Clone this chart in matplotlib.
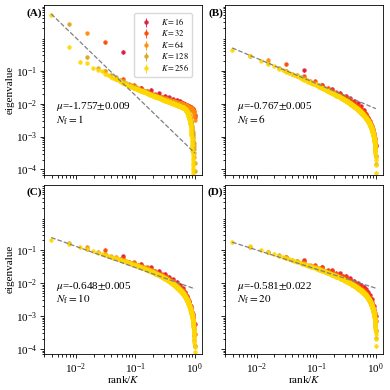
import numpy as np
import matplotlib
matplotlib.use("Agg")
import matplotlib.pyplot as plt
from matplotlib.ticker import LogLocator, NullFormatter

plt.rcParams["font.family"] = "serif"
plt.rcParams["font.serif"] = ["Liberation Serif", "DejaVu Serif"]
plt.rcParams["mathtext.fontset"] = "stix"
plt.rcParams["font.size"] = 8

# ── Data ──────────────────────────────────────────────────────────────────────
K_VALUES = [16, 32, 64, 128, 256]
COLORS = ["crimson", "orangered", "darkorange", "goldenrod", "gold"]
PANEL_TAGS = ["(A)", "(B)", "(C)", "(D)"]
N_F = [1, 6, 10, 20]
FIT_MU = [-1.757, -0.767, -0.648, -0.581]
FIT_MU_ERR = [0.009, 0.005, 0.005, 0.022]
FIT_LOG_AMP = [-3.50, -2.15, -2.17, -2.15]   # log10 of fitted line at rank/K = 1
ERR_FRAC = 0.12

# log10(eigenvalue) for rank = 1..K
A_K16 = [-0.42, -1.52, -1.58, -1.68, -1.75, -1.80, -1.85, -1.89, -1.93, -1.97, -2.00, -2.03, -2.07, -2.11, -2.16, -2.35]
A_K32 = [-0.13, -1.25, -1.42, -1.52, -1.60, -1.66, -1.71, -1.75, -1.79, -1.82, -1.85, -1.87, -1.89, -1.91, -1.93, -1.95,
         -1.96, -1.98, -1.99, -2.00, -2.02, -2.03, -2.04, -2.05, -2.07, -2.08, -2.10, -2.12, -2.14, -2.17, -2.22, -2.40]
A_K64 = [0.14, -0.99, -1.25, -1.37, -1.45, -1.51, -1.56, -1.60, -1.63, -1.66, -1.69, -1.71, -1.73, -1.75, -1.77, -1.79,
         -1.80, -1.82, -1.83, -1.84, -1.85, -1.87, -1.88, -1.89, -1.90, -1.91, -1.92, -1.92, -1.93, -1.94, -1.95, -1.96,
         -1.97, -1.97, -1.98, -1.99, -1.99, -2.00, -2.01, -2.01, -2.02, -2.03, -2.03, -2.04, -2.05, -2.05, -2.06, -2.07,
         -2.08, -2.09, -2.10, -2.11, -2.12, -2.13, -2.14, -2.15, -2.17, -2.19, -2.21, -2.23, -2.26, -2.30, -2.36, -2.50]
A_K128 = [0.42, -0.59, -0.92, -1.02, -1.12, -1.20, -1.27, -1.32, -1.36, -1.40, -1.44, -1.47, -1.50, -1.53, -1.55, -1.57,
          -1.59, -1.61, -1.62, -1.64, -1.66, -1.67, -1.69, -1.71, -1.72, -1.74, -1.75, -1.76, -1.77, -1.78, -1.79, -1.80,
          -1.81, -1.82, -1.83, -1.84, -1.85, -1.86, -1.87, -1.87, -1.88, -1.88, -1.89, -1.89, -1.90, -1.91, -1.91, -1.92,
          -1.93, -1.93, -1.94, -1.94, -1.95, -1.95, -1.96, -1.97, -1.97, -1.98, -1.98, -1.99, -1.99, -2.00, -2.00, -2.01,
          -2.02, -2.02, -2.02, -2.03, -2.03, -2.04, -2.04, -2.05, -2.05, -2.05, -2.06, -2.06, -2.07, -2.07, -2.08, -2.08,
          -2.09, -2.10, -2.10, -2.11, -2.11, -2.12, -2.13, -2.13, -2.14, -2.15, -2.16, -2.17, -2.18, -2.19, -2.20, -2.21,
          -2.23, -2.25, -2.27, -2.29, -2.31, -2.33, -2.35, -2.37, -2.40, -2.43, -2.46, -2.49, -2.52, -2.55, -2.59, -2.63,
          -2.67, -2.71, -2.76, -2.81, -2.86, -2.92, -2.98, -3.05, -3.12, -3.20, -3.29, -3.39, -3.50, -3.63, -3.80, -4.05]
A_K256 = [0.70, -0.27, -0.73, -0.77, -0.92, -0.98, -1.02, -1.09, -1.13, -1.18, -1.22, -1.26, -1.29, -1.32, -1.35, -1.37,
          -1.39, -1.41, -1.43, -1.45, -1.47, -1.48, -1.50, -1.51, -1.53, -1.54, -1.55, -1.56, -1.57, -1.58, -1.59, -1.60,
          -1.61, -1.62, -1.63, -1.64, -1.64, -1.65, -1.66, -1.67, -1.68, -1.69, -1.69, -1.70, -1.71, -1.72, -1.73, -1.74,
          -1.74, -1.75, -1.76, -1.77, -1.77, -1.78, -1.78, -1.79, -1.79, -1.80, -1.80, -1.81, -1.81, -1.82, -1.82, -1.83,
          -1.83, -1.84, -1.84, -1.85, -1.85, -1.86, -1.86, -1.87, -1.87, -1.88, -1.88, -1.89, -1.89, -1.89, -1.90, -1.90,
          -1.90, -1.91, -1.91, -1.91, -1.92, -1.92, -1.92, -1.93, -1.93, -1.93, -1.94, -1.94, -1.94, -1.94, -1.95, -1.95,
          -1.95, -1.96, -1.96, -1.96, -1.97, -1.97, -1.97, -1.97, -1.98, -1.98, -1.98, -1.99, -1.99, -1.99, -1.99, -2.00,
          -2.00, -2.00, -2.01, -2.01, -2.01, -2.02, -2.02, -2.02, -2.02, -2.03, -2.03, -2.03, -2.03, -2.04, -2.04, -2.04,
          -2.04, -2.05, -2.05, -2.05, -2.05, -2.05, -2.06, -2.06, -2.06, -2.06, -2.07, -2.07, -2.07, -2.07, -2.08, -2.08,
          -2.08, -2.08, -2.08, -2.09, -2.09, -2.09, -2.09, -2.10, -2.10, -2.10, -2.10, -2.10, -2.11, -2.11, -2.11, -2.11,
          -2.11, -2.12, -2.12, -2.12, -2.12, -2.13, -2.13, -2.13, -2.14, -2.14, -2.14, -2.15, -2.15, -2.15, -2.16, -2.16,
          -2.16, -2.17, -2.17, -2.18, -2.18, -2.19, -2.20, -2.21, -2.21, -2.22, -2.23, -2.24, -2.24, -2.25, -2.26, -2.27,
          -2.28, -2.29, -2.30, -2.31, -2.32, -2.33, -2.35, -2.36, -2.37, -2.38, -2.40, -2.41, -2.42, -2.44, -2.45, -2.47,
          -2.48, -2.50, -2.52, -2.54, -2.56, -2.58, -2.60, -2.63, -2.66, -2.69, -2.72, -2.75, -2.79, -2.83, -2.87, -2.91,
          -2.95, -3.01, -3.06, -3.12, -3.18, -3.24, -3.30, -3.37, -3.43, -3.50, -3.57, -3.65, -3.72, -3.80, -3.87, -3.95,
          -4.03, -4.12, -4.21, -4.30, -4.40, -4.50, -4.60, -4.70, -4.80, -4.90, -5.00, -5.10, -5.22, -5.35, -5.55, -5.80]

B_K16 = [-0.98, -1.42, -1.55, -1.66, -1.75, -1.83, -1.91, -1.99, -2.08, -2.18, -2.30, -2.43, -2.60, -2.82, -3.02, -3.25]
B_K32 = [-0.80, -1.17, -1.31, -1.42, -1.51, -1.58, -1.65, -1.70, -1.76, -1.81, -1.85, -1.90, -1.94, -1.99, -2.03, -2.07,
         -2.11, -2.15, -2.19, -2.24, -2.28, -2.33, -2.37, -2.43, -2.48, -2.54, -2.61, -2.68, -2.77, -2.88, -3.03, -3.28]
B_K64 = [-0.66, -0.99, -1.13, -1.23, -1.31, -1.38, -1.44, -1.49, -1.53, -1.58, -1.61, -1.65, -1.68, -1.71, -1.74, -1.77,
         -1.80, -1.83, -1.85, -1.88, -1.90, -1.92, -1.95, -1.97, -1.99, -2.01, -2.03, -2.06, -2.08, -2.10, -2.12, -2.14,
         -2.16, -2.18, -2.20, -2.22, -2.25, -2.27, -2.29, -2.31, -2.33, -2.36, -2.38, -2.40, -2.43, -2.45, -2.48, -2.51,
         -2.53, -2.56, -2.59, -2.63, -2.66, -2.70, -2.74, -2.78, -2.83, -2.88, -2.94, -3.01, -3.09, -3.19, -3.34, -3.59]
B_K128 = [-0.54, -0.77, -0.91, -1.01, -1.09, -1.15, -1.20, -1.25, -1.29, -1.33, -1.37, -1.40, -1.43, -1.46, -1.48, -1.51,
          -1.53, -1.55, -1.57, -1.59, -1.61, -1.63, -1.65, -1.67, -1.68, -1.70, -1.72, -1.73, -1.75, -1.76, -1.78, -1.79,
          -1.80, -1.82, -1.83, -1.84, -1.86, -1.87, -1.88, -1.90, -1.91, -1.92, -1.93, -1.94, -1.95, -1.96, -1.98, -1.99,
          -2.00, -2.01, -2.02, -2.03, -2.04, -2.05, -2.06, -2.08, -2.09, -2.10, -2.11, -2.12, -2.13, -2.14, -2.15, -2.16,
          -2.17, -2.18, -2.19, -2.20, -2.21, -2.22, -2.23, -2.25, -2.26, -2.27, -2.28, -2.29, -2.30, -2.31, -2.32, -2.33,
          -2.34, -2.36, -2.37, -2.38, -2.39, -2.40, -2.41, -2.43, -2.44, -2.45, -2.47, -2.48, -2.49, -2.50, -2.52, -2.53,
          -2.55, -2.56, -2.58, -2.59, -2.61, -2.62, -2.64, -2.65, -2.67, -2.69, -2.71, -2.73, -2.75, -2.77, -2.79, -2.81,
          -2.84, -2.87, -2.89, -2.92, -2.95, -2.99, -3.02, -3.06, -3.10, -3.15, -3.21, -3.27, -3.35, -3.45, -3.60, -3.84]
B_K256 = [-0.36, -0.55, -0.69, -0.79, -0.86, -0.93, -0.98, -1.03, -1.07, -1.10, -1.14, -1.17, -1.19, -1.22, -1.24, -1.27,
          -1.29, -1.31, -1.33, -1.35, -1.36, -1.38, -1.40, -1.41, -1.43, -1.44, -1.46, -1.47, -1.48, -1.50, -1.51, -1.52,
          -1.53, -1.54, -1.55, -1.56, -1.58, -1.59, -1.60, -1.61, -1.62, -1.63, -1.64, -1.65, -1.65, -1.66, -1.67, -1.68,
          -1.69, -1.70, -1.71, -1.71, -1.72, -1.73, -1.74, -1.75, -1.75, -1.76, -1.77, -1.78, -1.78, -1.79, -1.80, -1.81,
          -1.81, -1.82, -1.83, -1.83, -1.84, -1.85, -1.85, -1.86, -1.87, -1.87, -1.88, -1.89, -1.89, -1.90, -1.90, -1.91,
          -1.92, -1.92, -1.93, -1.93, -1.94, -1.95, -1.95, -1.96, -1.96, -1.97, -1.97, -1.98, -1.99, -1.99, -2.00, -2.00,
          -2.01, -2.02, -2.02, -2.03, -2.03, -2.04, -2.04, -2.05, -2.05, -2.06, -2.06, -2.07, -2.08, -2.08, -2.09, -2.09,
          -2.10, -2.10, -2.11, -2.11, -2.12, -2.12, -2.13, -2.13, -2.14, -2.14, -2.15, -2.16, -2.16, -2.17, -2.17, -2.18,
          -2.18, -2.19, -2.19, -2.20, -2.20, -2.21, -2.21, -2.22, -2.23, -2.23, -2.24, -2.24, -2.25, -2.25, -2.26, -2.26,
          -2.27, -2.27, -2.28, -2.28, -2.29, -2.30, -2.30, -2.31, -2.31, -2.32, -2.32, -2.33, -2.33, -2.34, -2.34, -2.35,
          -2.36, -2.36, -2.37, -2.37, -2.38, -2.39, -2.39, -2.40, -2.40, -2.41, -2.41, -2.42, -2.43, -2.43, -2.44, -2.44,
          -2.45, -2.46, -2.46, -2.47, -2.48, -2.48, -2.49, -2.50, -2.50, -2.51, -2.52, -2.52, -2.53, -2.54, -2.54, -2.55,
          -2.56, -2.57, -2.57, -2.58, -2.59, -2.60, -2.60, -2.61, -2.62, -2.63, -2.64, -2.64, -2.65, -2.66, -2.67, -2.68,
          -2.69, -2.70, -2.71, -2.72, -2.73, -2.74, -2.75, -2.76, -2.77, -2.78, -2.79, -2.80, -2.81, -2.82, -2.83, -2.84,
          -2.85, -2.86, -2.88, -2.89, -2.90, -2.92, -2.93, -2.95, -2.96, -2.98, -3.00, -3.02, -3.04, -3.05, -3.07, -3.09,
          -3.11, -3.14, -3.16, -3.19, -3.22, -3.26, -3.29, -3.32, -3.37, -3.41, -3.47, -3.53, -3.61, -3.71, -3.85, -4.10]

C_K16 = [-1.18, -1.40, -1.52, -1.62, -1.71, -1.80, -1.88, -1.96, -2.05, -2.15, -2.26, -2.38, -2.53, -2.70, -2.92, -3.25]
C_K32 = [-0.98, -1.24, -1.36, -1.44, -1.51, -1.57, -1.63, -1.68, -1.73, -1.77, -1.81, -1.86, -1.90, -1.94, -1.98, -2.03,
         -2.07, -2.12, -2.16, -2.21, -2.26, -2.31, -2.37, -2.43, -2.49, -2.57, -2.65, -2.75, -2.86, -3.01, -3.21, -3.55]
C_K64 = [-0.90, -1.10, -1.20, -1.28, -1.34, -1.39, -1.43, -1.47, -1.51, -1.55, -1.58, -1.61, -1.63, -1.66, -1.69, -1.71,
         -1.74, -1.76, -1.78, -1.81, -1.83, -1.85, -1.87, -1.89, -1.92, -1.94, -1.96, -1.98, -2.00, -2.02, -2.05, -2.07,
         -2.09, -2.11, -2.13, -2.16, -2.18, -2.20, -2.23, -2.25, -2.28, -2.30, -2.33, -2.36, -2.39, -2.42, -2.45, -2.48,
         -2.51, -2.55, -2.59, -2.63, -2.67, -2.72, -2.77, -2.82, -2.88, -2.95, -3.03, -3.12, -3.23, -3.37, -3.57, -3.90]
C_K128 = [-0.78, -0.95, -1.05, -1.12, -1.18, -1.22, -1.26, -1.30, -1.33, -1.36, -1.39, -1.41, -1.43, -1.46, -1.48, -1.50,
          -1.52, -1.53, -1.55, -1.57, -1.58, -1.60, -1.61, -1.63, -1.64, -1.66, -1.67, -1.69, -1.70, -1.71, -1.72, -1.74,
          -1.75, -1.76, -1.77, -1.78, -1.80, -1.81, -1.82, -1.83, -1.84, -1.85, -1.86, -1.88, -1.89, -1.90, -1.91, -1.92,
          -1.93, -1.94, -1.95, -1.96, -1.97, -1.98, -1.99, -2.01, -2.02, -2.03, -2.04, -2.05, -2.06, -2.07, -2.08, -2.09,
          -2.10, -2.12, -2.13, -2.14, -2.15, -2.16, -2.17, -2.18, -2.20, -2.21, -2.22, -2.23, -2.25, -2.26, -2.27, -2.28,
          -2.30, -2.31, -2.32, -2.34, -2.35, -2.36, -2.38, -2.39, -2.40, -2.42, -2.44, -2.45, -2.47, -2.48, -2.50, -2.51,
          -2.53, -2.55, -2.57, -2.59, -2.61, -2.63, -2.65, -2.67, -2.69, -2.71, -2.74, -2.76, -2.79, -2.81, -2.84, -2.87,
          -2.90, -2.94, -2.97, -3.00, -3.05, -3.10, -3.14, -3.19, -3.25, -3.31, -3.39, -3.48, -3.59, -3.72, -3.92, -4.25]
C_K256 = [-0.68, -0.80, -0.89, -0.97, -1.02, -1.07, -1.10, -1.14, -1.17, -1.20, -1.22, -1.24, -1.26, -1.28, -1.30, -1.32,
          -1.33, -1.35, -1.36, -1.38, -1.39, -1.41, -1.42, -1.43, -1.44, -1.46, -1.47, -1.48, -1.49, -1.50, -1.51, -1.52,
          -1.53, -1.54, -1.54, -1.55, -1.56, -1.57, -1.58, -1.59, -1.60, -1.60, -1.61, -1.62, -1.63, -1.63, -1.64, -1.65,
          -1.66, -1.66, -1.67, -1.68, -1.68, -1.69, -1.70, -1.71, -1.71, -1.72, -1.72, -1.73, -1.74, -1.74, -1.75, -1.76,
          -1.76, -1.77, -1.77, -1.78, -1.79, -1.79, -1.80, -1.80, -1.81, -1.81, -1.82, -1.83, -1.83, -1.84, -1.84, -1.85,
          -1.86, -1.86, -1.87, -1.87, -1.88, -1.89, -1.89, -1.90, -1.90, -1.91, -1.91, -1.92, -1.92, -1.93, -1.93, -1.94,
          -1.95, -1.95, -1.96, -1.96, -1.97, -1.97, -1.98, -1.98, -1.99, -1.99, -2.00, -2.01, -2.01, -2.02, -2.02, -2.03,
          -2.03, -2.04, -2.04, -2.05, -2.05, -2.06, -2.07, -2.07, -2.08, -2.08, -2.09, -2.09, -2.10, -2.10, -2.11, -2.11,
          -2.12, -2.13, -2.13, -2.14, -2.14, -2.15, -2.15, -2.16, -2.17, -2.17, -2.18, -2.18, -2.19, -2.20, -2.20, -2.21,
          -2.21, -2.22, -2.23, -2.23, -2.24, -2.24, -2.25, -2.26, -2.26, -2.27, -2.27, -2.28, -2.29, -2.29, -2.30, -2.30,
          -2.31, -2.32, -2.32, -2.33, -2.34, -2.34, -2.35, -2.36, -2.37, -2.37, -2.38, -2.39, -2.39, -2.40, -2.41, -2.41,
          -2.42, -2.43, -2.44, -2.45, -2.45, -2.46, -2.47, -2.48, -2.48, -2.49, -2.50, -2.51, -2.52, -2.52, -2.53, -2.54,
          -2.55, -2.56, -2.57, -2.58, -2.59, -2.60, -2.61, -2.62, -2.63, -2.64, -2.64, -2.65, -2.66, -2.67, -2.68, -2.69,
          -2.71, -2.72, -2.73, -2.74, -2.76, -2.77, -2.78, -2.80, -2.81, -2.82, -2.83, -2.85, -2.86, -2.87, -2.89, -2.90,
          -2.92, -2.93, -2.95, -2.97, -2.99, -3.01, -3.02, -3.04, -3.06, -3.09, -3.11, -3.14, -3.16, -3.18, -3.21, -3.23,
          -3.27, -3.30, -3.33, -3.37, -3.41, -3.46, -3.50, -3.55, -3.61, -3.67, -3.75, -3.83, -3.94, -4.08, -4.27, -4.60]

D_K16 = [-1.30, -1.50, -1.61, -1.70, -1.78, -1.85, -1.92, -1.98, -2.04, -2.11, -2.18, -2.26, -2.36, -2.48, -2.68, -3.00]
D_K32 = [-1.20, -1.32, -1.44, -1.52, -1.59, -1.64, -1.69, -1.74, -1.78, -1.82, -1.86, -1.90, -1.94, -1.97, -2.01, -2.04,
         -2.08, -2.11, -2.15, -2.19, -2.22, -2.26, -2.31, -2.35, -2.40, -2.45, -2.51, -2.58, -2.66, -2.77, -2.91, -3.14]
D_K64 = [-1.04, -1.20, -1.31, -1.39, -1.45, -1.50, -1.55, -1.58, -1.62, -1.65, -1.68, -1.71, -1.74, -1.76, -1.79, -1.81,
         -1.83, -1.85, -1.87, -1.89, -1.91, -1.93, -1.95, -1.97, -1.99, -2.00, -2.02, -2.04, -2.06, -2.08, -2.09, -2.11,
         -2.13, -2.15, -2.17, -2.18, -2.20, -2.22, -2.24, -2.26, -2.28, -2.30, -2.32, -2.34, -2.36, -2.38, -2.41, -2.43,
         -2.45, -2.48, -2.51, -2.54, -2.57, -2.60, -2.64, -2.68, -2.72, -2.77, -2.82, -2.88, -2.96, -3.06, -3.20, -3.42]
D_K128 = [-0.90, -1.04, -1.14, -1.22, -1.28, -1.33, -1.37, -1.41, -1.44, -1.47, -1.49, -1.52, -1.54, -1.56, -1.58, -1.60,
          -1.62, -1.64, -1.65, -1.67, -1.68, -1.70, -1.71, -1.73, -1.74, -1.75, -1.77, -1.78, -1.79, -1.80, -1.81, -1.83,
          -1.84, -1.85, -1.86, -1.87, -1.88, -1.89, -1.90, -1.91, -1.92, -1.93, -1.94, -1.95, -1.96, -1.97, -1.98, -1.99,
          -2.00, -2.01, -2.01, -2.02, -2.03, -2.04, -2.05, -2.06, -2.07, -2.08, -2.09, -2.10, -2.10, -2.11, -2.12, -2.13,
          -2.14, -2.15, -2.16, -2.17, -2.18, -2.19, -2.19, -2.20, -2.21, -2.22, -2.23, -2.24, -2.25, -2.26, -2.27, -2.28,
          -2.29, -2.30, -2.31, -2.32, -2.33, -2.34, -2.35, -2.36, -2.37, -2.38, -2.40, -2.41, -2.42, -2.43, -2.44, -2.45,
          -2.47, -2.48, -2.50, -2.51, -2.52, -2.54, -2.55, -2.56, -2.58, -2.60, -2.61, -2.63, -2.65, -2.67, -2.69, -2.71,
          -2.73, -2.76, -2.78, -2.81, -2.84, -2.87, -2.90, -2.93, -2.98, -3.02, -3.07, -3.13, -3.21, -3.30, -3.44, -3.67]
D_K256 = [-0.76, -0.88, -0.98, -1.06, -1.11, -1.16, -1.20, -1.24, -1.27, -1.30, -1.32, -1.34, -1.36, -1.39, -1.40, -1.42,
          -1.44, -1.45, -1.47, -1.48, -1.50, -1.51, -1.52, -1.53, -1.54, -1.56, -1.57, -1.58, -1.59, -1.60, -1.61, -1.62,
          -1.63, -1.64, -1.64, -1.65, -1.66, -1.67, -1.68, -1.69, -1.69, -1.70, -1.71, -1.72, -1.72, -1.73, -1.74, -1.74,
          -1.75, -1.76, -1.76, -1.77, -1.78, -1.78, -1.79, -1.80, -1.80, -1.81, -1.81, -1.82, -1.82, -1.83, -1.84, -1.84,
          -1.85, -1.85, -1.86, -1.86, -1.87, -1.87, -1.88, -1.88, -1.89, -1.89, -1.90, -1.91, -1.91, -1.92, -1.92, -1.93,
          -1.93, -1.94, -1.94, -1.95, -1.95, -1.96, -1.96, -1.97, -1.97, -1.98, -1.98, -1.99, -1.99, -1.99, -2.00, -2.00,
          -2.01, -2.01, -2.02, -2.02, -2.03, -2.03, -2.04, -2.04, -2.04, -2.05, -2.05, -2.06, -2.06, -2.07, -2.07, -2.08,
          -2.08, -2.09, -2.09, -2.09, -2.10, -2.10, -2.11, -2.11, -2.12, -2.12, -2.13, -2.13, -2.14, -2.14, -2.14, -2.15,
          -2.15, -2.16, -2.16, -2.17, -2.17, -2.18, -2.18, -2.19, -2.19, -2.19, -2.20, -2.20, -2.21, -2.21, -2.22, -2.22,
          -2.23, -2.23, -2.24, -2.24, -2.25, -2.25, -2.26, -2.26, -2.27, -2.27, -2.27, -2.28, -2.28, -2.29, -2.29, -2.30,
          -2.30, -2.31, -2.31, -2.32, -2.32, -2.33, -2.33, -2.34, -2.34, -2.35, -2.35, -2.36, -2.37, -2.37, -2.38, -2.38,
          -2.39, -2.39, -2.40, -2.40, -2.41, -2.42, -2.42, -2.43, -2.43, -2.44, -2.44, -2.45, -2.46, -2.46, -2.47, -2.47,
          -2.48, -2.49, -2.50, -2.50, -2.51, -2.52, -2.52, -2.53, -2.54, -2.54, -2.55, -2.56, -2.57, -2.57, -2.58, -2.59,
          -2.60, -2.60, -2.61, -2.62, -2.63, -2.64, -2.65, -2.66, -2.67, -2.68, -2.69, -2.70, -2.71, -2.72, -2.72, -2.73,
          -2.75, -2.76, -2.77, -2.78, -2.80, -2.81, -2.82, -2.83, -2.85, -2.87, -2.88, -2.90, -2.92, -2.93, -2.95, -2.97,
          -2.99, -3.01, -3.04, -3.06, -3.09, -3.12, -3.15, -3.18, -3.22, -3.27, -3.32, -3.38, -3.45, -3.55, -3.68, -3.91]

PANELS = [
    [A_K16, A_K32, A_K64, A_K128, A_K256],
    [B_K16, B_K32, B_K64, B_K128, B_K256],
    [C_K16, C_K32, C_K64, C_K128, C_K256],
    [D_K16, D_K32, D_K64, D_K128, D_K256],
]

# ── Figure ────────────────────────────────────────────────────────────────────
fig, axes = plt.subplots(2, 2, figsize=(3.9, 3.9), dpi=100, sharex=True, sharey=True)
fig.subplots_adjust(left=0.113, right=0.982, bottom=0.092, top=0.987,
                    wspace=0.146, hspace=0.059)

for i, ax in enumerate(axes.flat):
    for K, col, logs in zip(K_VALUES, COLORS, PANELS[i]):
        assert len(logs) == K, (i, K, len(logs))
        x = np.arange(1, K + 1) / K
        y = 10.0 ** np.asarray(logs)
        ax.errorbar(x, y, yerr=ERR_FRAC * y, fmt="o", ms=3.2, mew=0, color=col,
                    elinewidth=0.7, alpha=0.9, label=f"$K={K}$", zorder=2)

    xf = np.array([1 / 256, 1.0])
    ax.plot(xf, 10 ** FIT_LOG_AMP[i] * xf ** FIT_MU[i], ls="--", color="gray",
            lw=0.9, zorder=3)

    ax.text(0.075, 0.36,
            f"$\\mu$={FIT_MU[i]:.3f}$\\pm${FIT_MU_ERR[i]:.3f}\n$N_{{\\rm f}}={N_F[i]}$",
            transform=ax.transAxes, ha="left", va="center", linespacing=1.0)
    ax.text(-0.012, 0.955, PANEL_TAGS[i], transform=ax.transAxes,
            ha="right", va="center", fontweight="bold")

    ax.set_xscale("log")
    ax.set_yscale("log")
    for s in ax.spines.values():
        s.set_linewidth(0.6)
    ax.tick_params(which="both", width=0.6, pad=2, labelsize=8)
    ax.tick_params(which="major", length=3)
    ax.tick_params(which="minor", length=1.8)

ax0 = axes[0, 0]
ax0.set_xlim(10 ** -2.528, 10 ** 0.12)
ax0.set_ylim(7e-5, 10)
ax0.set_yticks([1e-4, 1e-3, 1e-2, 1e-1])
ax0.yaxis.set_minor_locator(LogLocator(base=10, subs=np.arange(2, 10), numticks=20))
ax0.yaxis.set_minor_formatter(NullFormatter())

for ax in axes[:, 0]:
    ax.set_ylabel("eigenvalue", labelpad=1)
for ax in axes[1, :]:
    ax.set_xlabel("rank/$K$", labelpad=-1)

ax0.legend(loc="upper right", bbox_to_anchor=(0.937, 0.953), borderaxespad=0,
           fontsize=6, labelspacing=0.12, edgecolor="0.85", framealpha=1)

fig.savefig("out.png", dpi=100)
